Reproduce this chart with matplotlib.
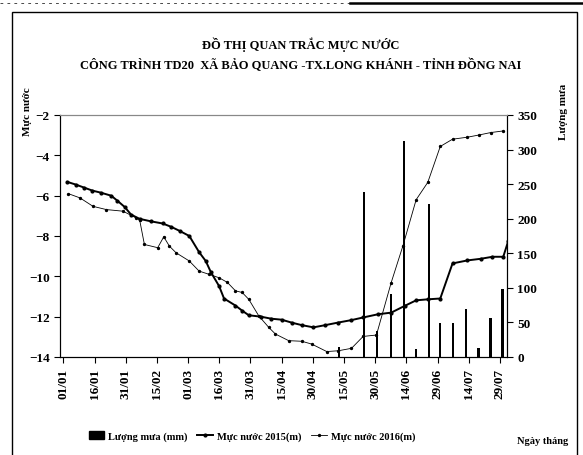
import numpy as np
import matplotlib
matplotlib.use("Agg")
import matplotlib.pyplot as plt
from matplotlib.lines import Line2D
from matplotlib.patches import Patch, Rectangle

plt.rcParams['font.family'] = ['Liberation Serif', 'DejaVu Serif']
plt.rcParams['font.weight'] = 'bold'

# ngay trong nam (tinh tu 01/01, nam nhuan)
ngay_2015 = [2, 6, 10, 14, 18, 23, 26, 29.5, 32.6, 36.7, 42, 47.8, 52, 56, 60.6, 65.3,
             68.5, 71, 74.9, 77.3, 82.8, 86, 89.2, 95, 100, 105, 110, 114.7, 120.3, 126,
             132.3, 138.6, 144.2, 151.4, 157.7, 164.1, 169.7, 175.3, 181.3, 187.2, 194.4,
             200.8, 206.4, 211.6, 214]
muc_nuoc_2015 = [-5.32, -5.45, -5.6, -5.75, -5.85, -6.0, -6.25, -6.56, -6.94, -7.15, -7.27,
                 -7.38, -7.55, -7.75, -8.0, -8.8, -9.24, -9.8, -10.48, -11.1, -11.45, -11.7,
                 -11.93, -12.0, -12.1, -12.15, -12.3, -12.42, -12.53, -12.42, -12.29, -12.17,
                 -12.04, -11.88, -11.8, -11.47, -11.19, -11.14, -11.1, -9.36, -9.21, -9.13,
                 -9.03, -9.03, -8.25]

ngay_2016 = [2.4, 8, 14.3, 20.7, 28.7, 35, 36.7, 39, 45.4, 48.3, 51, 54.2, 60.6, 65.3, 70.1,
             74.9, 78.9, 82.8, 86, 89.2, 94, 98.8, 102, 108.4, 114.7, 119.5, 126.7, 132.3,
             138.6, 144.2, 150.6, 157.7, 163.3, 169.7, 175.3, 181.3, 187.2, 194.4, 200,
             205.6, 211.6]
muc_nuoc_2016 = [-5.9, -6.11, -6.53, -6.69, -6.77, -7.1, -7.2, -8.42, -8.58, -8.04, -8.5,
                 -8.83, -9.24, -9.74, -9.9, -10.07, -10.3, -10.72, -10.8, -11.14, -11.96,
                 -12.53, -12.86, -13.19, -13.22, -13.36, -13.73, -13.69, -13.57, -12.98,
                 -12.91, -10.31, -8.5, -6.2, -5.34, -3.56, -3.2, -3.1, -2.99, -2.87, -2.79]

ngay_mua = [132.6, 144.5, 150.9, 157.7, 163.8, 169.7, 175.8, 181.3, 187.5, 193.6, 199.7,
            205.5, 211.3]
luong_mua = [14, 238, 38, 91, 312, 12, 222, 49, 49, 70, 12.5, 57, 99]

tick_ngay = list(range(0, 211, 15))
tick_nhan = ['01/01', '16/01', '31/01', '15/02', '01/03', '16/03', '31/03', '15/04',
             '30/04', '15/05', '30/05', '14/06', '29/06', '14/07', '29/07']

W, H = 583, 456
fig = plt.figure(figsize=(W / 100, H / 100), dpi=100)
fig.patch.set_facecolor('white')

# khung ngoai
fig.add_artist(Rectangle((12 / W, -0.01), 565 / W, 1 - 13 / H + 0.01, transform=fig.transFigure,
                         fill=False, edgecolor='black', linewidth=1.0))
fig.add_artist(Line2D([0.6, 1.0], [1 - 4 / H, 1 - 4 / H], transform=fig.transFigure,
                      color='black', linewidth=1.8))
fig.add_artist(Line2D([0.0, 0.6], [1 - 4 / H, 1 - 4 / H], transform=fig.transFigure,
                      color='black', linewidth=0.5, linestyle=(0, (4, 6))))

ax = fig.add_axes([60 / W, 1 - 358 / H, 447 / W, 242 / H])
ax2 = ax.twinx()

ax2.bar(ngay_mua, luong_mua, width=1.1, color='black', zorder=1)
ax2.set_ylim(0, 350)
ax2.set_yticks(range(0, 351, 50))

ax.set_zorder(ax2.get_zorder() + 1)
ax.patch.set_visible(False)
ax.plot(ngay_2015, muc_nuoc_2015, color='black', linewidth=1.4, marker='o', markersize=2.0)
ax.plot(ngay_2016, muc_nuoc_2016, color='black', linewidth=0.6, marker='o', markersize=1.4)

ax.set_xlim(-1.6, 213.4)
ax.set_ylim(-14, -2)
ax.set_yticks(range(-14, -1, 2))
ax.set_xticks(tick_ngay)
ax.set_xticklabels(tick_nhan, rotation=90, fontsize=9.5, fontweight='bold')
for a in (ax, ax2):
    a.tick_params(axis='both', direction='out', length=4, width=0.8, labelsize=9.5)
    a.spines['top'].set_color('#888888')
    a.spines['top'].set_linewidth(0.8)
for lab in ax.get_yticklabels() + ax2.get_yticklabels():
    lab.set_fontweight('bold')

fig.text(0.515, 1 - 45 / H, 'ĐỒ THỊ QUAN TRẮC MỰC NƯỚC', ha='center', va='center',
         fontsize=9, fontweight='bold')
fig.text(0.515, 1 - 65 / H, 'CÔNG TRÌNH TD20  XÃ BẢO QUANG -TX.LONG KHÁNH - TỈNH ĐỒNG NAI',
         ha='center', va='center', fontsize=9, fontweight='bold')
fig.text(27 / W, 1 - 112 / H, 'Mực nước', rotation=90, ha='center', va='center',
         fontsize=8, fontweight='bold')
fig.text(563 / W, 1 - 112 / H, 'Lượng mưa', rotation=90, ha='center', va='center',
         fontsize=8, fontweight='bold')
fig.text(543 / W, 1 - 442 / H, 'Ngày tháng', ha='center', va='center',
         fontsize=7.5, fontweight='bold')

handles = [Patch(facecolor='black', edgecolor='black'),
           Line2D([], [], color='black', linewidth=1.4, marker='o', markersize=2.0),
           Line2D([], [], color='black', linewidth=0.6, marker='o', markersize=1.4)]
labels = ['Lượng mưa (mm)', 'Mực nước 2015(m)', 'Mực nước 2016(m)']
fig.legend(handles, labels, loc='center', bbox_to_anchor=(252 / W, 1 - 437 / H), ncol=3,
           frameon=False, handlelength=1.5, handletextpad=0.4,
           columnspacing=0.9, prop={'weight': 'bold', 'size': 7.5})

fig.savefig('out.png', dpi=100, facecolor='white')
